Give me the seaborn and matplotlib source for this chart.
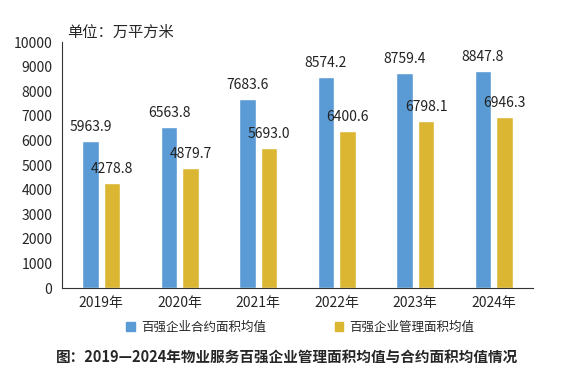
import numpy as np
import pandas as pd
import matplotlib
matplotlib.use("Agg")
import matplotlib.pyplot as plt
import seaborn as sns

# data
years = ["2019年", "2020年", "2021年", "2022年", "2023年", "2024年"]
contract_area = [5963.9, 6563.8, 7683.6, 8574.2, 8759.4, 8847.8]
managed_area = [4278.8, 4879.7, 5693.0, 6400.6, 6798.1, 6946.3]
series_names = ["百强企业合约面积均值", "百强企业管理面积均值"]
colors = ["#5B9BD5", "#DBB632"]

df = pd.DataFrame({
    "year": years * 2,
    "value": contract_area + managed_area,
    "series": [series_names[0]] * len(years) + [series_names[1]] * len(years),
})

sns.set_style("white")
plt.rcParams["font.family"] = ["Noto Sans CJK SC", "DejaVu Sans"]

fig = plt.figure(figsize=(5.75, 3.8), dpi=100)
ax = fig.add_axes([0.108, 0.242, 0.819, 0.647])

sns.barplot(data=df, x="year", y="value", hue="series", palette=colors,
            width=0.55, gap=0.23, saturation=1, legend=False, ax=ax)

# value labels
for cont in ax.containers:
    ax.bar_label(cont, fmt="%.1f", padding=5, fontsize=10, color="#222222")

ax.set_xlim(-0.5, 5.5)
ax.set_ylim(0, 10000)
ax.set_yticks(np.arange(0, 10001, 1000))
ax.set_xlabel("")
ax.set_ylabel("")
ax.tick_params(axis="y", direction="out", length=4, width=0.8, labelsize=10, pad=3)
ax.tick_params(axis="x", which="major", length=0, labelsize=10, pad=6)
ax.set_xticks(np.arange(-0.5, 6, 1), minor=True)
ax.tick_params(axis="x", which="minor", direction="out", length=5, width=0.8)
for s in ["top", "right"]:
    ax.spines[s].set_visible(False)
for s in ["left", "bottom"]:
    ax.spines[s].set_color("#333333")
    ax.spines[s].set_linewidth(0.8)

fig.text(0.117, 0.893, "单位：万平方米", fontsize=11, ha="left", va="bottom")

handles = [plt.Rectangle((0, 0), 1, 1, color=c) for c in colors]
fig.legend(handles, series_names, loc="center", bbox_to_anchor=(0.522, 0.139),
           ncol=2, frameon=False, fontsize=9, handlelength=0.7, handleheight=0.7,
           handletextpad=0.5, columnspacing=5.5)

fig.text(0.5, 0.06, "图：2019—2024年物业服务百强企业管理面积均值与合约面积均值情况",
         fontsize=10.5, fontweight="bold", ha="center", va="center")

fig.savefig("out.png", dpi=100)
